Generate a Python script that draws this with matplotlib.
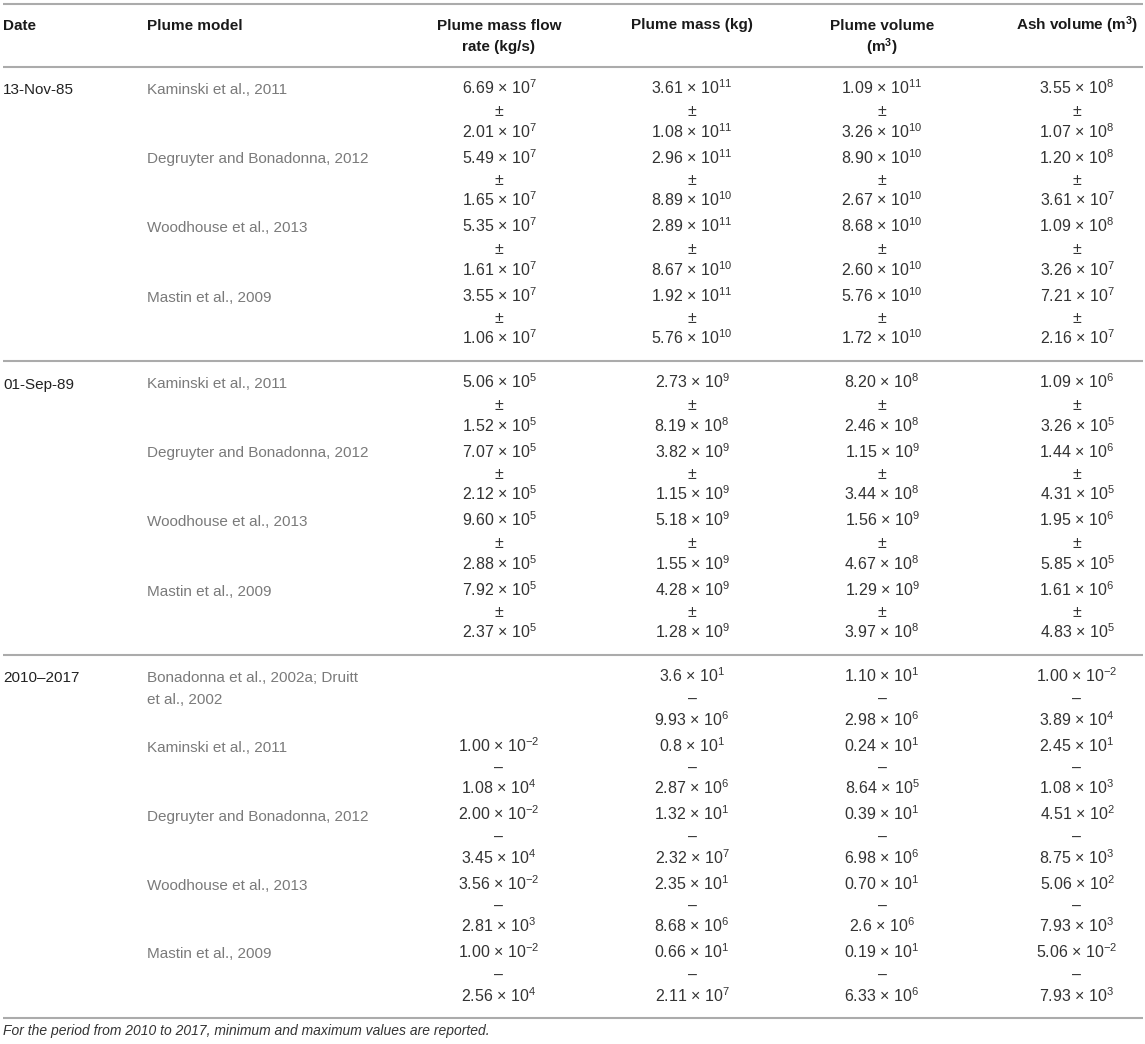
import matplotlib
matplotlib.use("Agg")
import matplotlib.pyplot as plt

plt.rcParams['font.family'] = ['Liberation Sans', 'DejaVu Sans']
plt.rcParams['mathtext.fontset'] = 'custom'
plt.rcParams['mathtext.rm'] = 'Liberation Sans'
plt.rcParams['mathtext.it'] = 'Liberation Sans:italic'
plt.rcParams['mathtext.bf'] = 'Liberation Sans:bold'

# ---------------- data ----------------
headers = ["Date", "Plume model", "Plume mass flow\nrate (kg/s)", "Plume mass (kg)",
           "Plume volume\n(m$^{3}$)", "Ash volume (m$^{3}$)"]

dates = ["13-Nov-85", "01-Sep-89", "2010\u20132017"]

models_g1 = ["Kaminski et al., 2011", "Degruyter and Bonadonna, 2012",
             "Woodhouse et al., 2013", "Mastin et al., 2009"]
models_g2 = ["Kaminski et al., 2011", "Degruyter and Bonadonna, 2012",
             "Woodhouse et al., 2013", "Mastin et al., 2009"]
models_g3 = ["Bonadonna et al., 2002a; Druitt\net al., 2002", "Kaminski et al., 2011",
             "Degruyter and Bonadonna, 2012", "Woodhouse et al., 2013",
             "Mastin et al., 2009"]

# 13-Nov-85 : value, uncertainty (±)
g1_flow = [("6.69e7", "2.01e7"), ("5.49e7", "1.65e7"), ("5.35e7", "1.61e7"), ("3.55e7", "1.06e7")]
g1_mass = [("3.61e11", "1.08e11"), ("2.96e11", "8.89e10"), ("2.89e11", "8.67e10"), ("1.92e11", "5.76e10")]
g1_pvol = [("1.09e11", "3.26e10"), ("8.90e10", "2.67e10"), ("8.68e10", "2.60e10"), ("5.76e10", "1.72e10")]
g1_ash = [("3.55e8", "1.07e8"), ("1.20e8", "3.61e7"), ("1.09e8", "3.26e7"), ("7.21e7", "2.16e7")]

# 01-Sep-89 : value, uncertainty (±)
g2_flow = [("5.06e5", "1.52e5"), ("7.07e5", "2.12e5"), ("9.60e5", "2.88e5"), ("7.92e5", "2.37e5")]
g2_mass = [("2.73e9", "8.19e8"), ("3.82e9", "1.15e9"), ("5.18e9", "1.55e9"), ("4.28e9", "1.28e9")]
g2_pvol = [("8.20e8", "2.46e8"), ("1.15e9", "3.44e8"), ("1.56e9", "4.67e8"), ("1.29e9", "3.97e8")]
g2_ash = [("1.09e6", "3.26e5"), ("1.44e6", "4.31e5"), ("1.95e6", "5.85e5"), ("1.61e6", "4.83e5")]

# 2010-2017 : minimum, maximum
g3_flow = [None, ("1.00e-2", "1.08e4"), ("2.00e-2", "3.45e4"), ("3.56e-2", "2.81e3"), ("1.00e-2", "2.56e4")]
g3_mass = [("3.6e1", "9.93e6"), ("0.8e1", "2.87e6"), ("1.32e1", "2.32e7"), ("2.35e1", "8.68e6"), ("0.66e1", "2.11e7")]
g3_pvol = [("1.10e1", "2.98e6"), ("0.24e1", "8.64e5"), ("0.39e1", "6.98e6"), ("0.70e1", "2.6e6"), ("0.19e1", "6.33e6")]
g3_ash = [("1.00e-2", "3.89e4"), ("2.45e1", "1.08e3"), ("4.51e2", "8.75e3"), ("5.06e2", "7.93e3"), ("5.06e-2", "7.93e3")]

footnote = "For the period from 2010 to 2017, minimum and maximum values are reported."

groups = [
    (dates[0], models_g1, [g1_flow, g1_mass, g1_pvol, g1_ash], "\u00b1"),
    (dates[1], models_g2, [g2_flow, g2_mass, g2_pvol, g2_ash], "\u00b1"),
    (dates[2], models_g3, [g3_flow, g3_mass, g3_pvol, g3_ash], "\u2013"),
]

# ---------------- layout ----------------
W, H = 1145, 1044
fig = plt.figure(figsize=(W / 100, H / 100), dpi=100)
ax = fig.add_axes([0, 0, 1, 1])
ax.set_xlim(0, W)
ax.set_ylim(H, 0)
ax.axis('off')

FS = 11
FSV = 11.5
LINE = 21.5
ROW = 69
BASE = 5.5  # offset from visual centre to baseline
x_date, x_model = 3, 147
x_cols = [499, 692, 882, 1077]
rule_col = '#ababab'
c_date, c_model, c_val, c_head = '#222222', '#7a7a7a', '#333333', '#1a1a1a'


def fmt(s):
    m, e = s.split('e')
    return f"{m} \u00d7 $10^{{{int(e)}}}$"


def hline(y, lw=1.5):
    ax.plot([3, 1143], [y, y], color=rule_col, lw=lw, solid_capstyle='butt')


hline(4)
# header
head_y = 24
ax.text(x_date, head_y + BASE, headers[0], fontsize=FS, fontweight='bold', color=c_head, va='baseline')
ax.text(x_model, head_y + BASE, headers[1], fontsize=FS, fontweight='bold', color=c_head, va='baseline')
for xc, h in zip(x_cols, headers[2:]):
    for k, ln in enumerate(h.split('\n')):
        ln = ln.replace('m$^{3}$', r'$\mathbf{m}^{\mathbf{3}}$')
        ax.text(xc, head_y + k * 22 + BASE, ln, fontsize=FS, fontweight='bold',
                color=c_head, ha='center', va='baseline')
sep = 67
hline(sep)

for date, models, cols, mid in groups:
    y0 = sep + 22
    ax.text(x_date, y0 + BASE, date, fontsize=FS, color=c_date, va='baseline')
    for i, model in enumerate(models):
        yr = y0 + i * ROW
        for k, ln in enumerate(model.split('\n')):
            ax.text(x_model, yr + k * LINE + BASE, ln, fontsize=FS, color=c_model, va='baseline')
        for xc, col in zip(x_cols, cols):
            cell = col[i]
            if cell is None:
                continue
            a, b = cell
            ax.text(xc, yr + BASE, fmt(a), fontsize=FSV, color=c_val, ha='center', va='baseline')
            ax.text(xc, yr + LINE + BASE, mid, fontsize=FSV, color=c_val, ha='center', va='baseline')
            ax.text(xc, yr + 2 * LINE + BASE, fmt(b), fontsize=FSV, color=c_val, ha='center', va='baseline')
    last = y0 + (len(models) - 1) * ROW + 2 * LINE
    sep = last + 22
    hline(sep)

ax.text(x_date, 1031 + 4.5, footnote, fontsize=10, style='italic', color='#333333', va='baseline')

fig.savefig('out.png', dpi=100)
